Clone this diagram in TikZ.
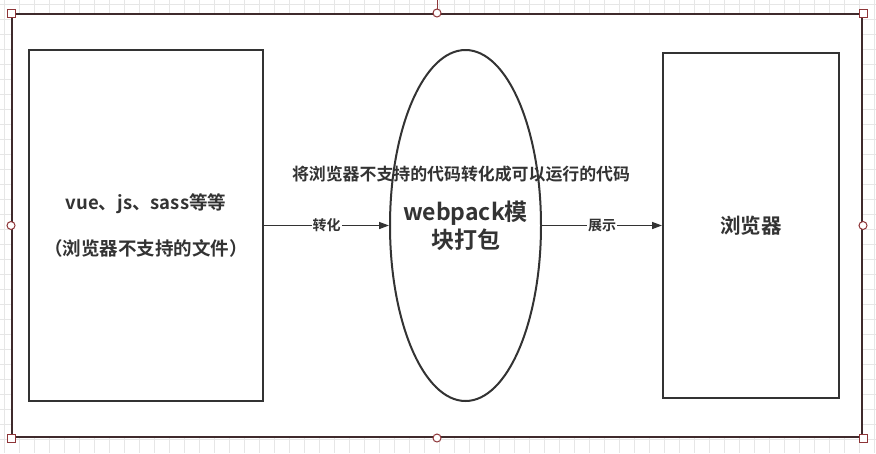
\documentclass[tikz,border=0pt]{standalone}
\usepackage{fontspec}
\newfontfamily\cjk{Noto Sans CJK SC}[BoldFont={Noto Sans CJK SC Bold}]
\usetikzlibrary{shapes,
	arrows.meta,
	positioning}
\definecolor{ink}{HTML}{333333}
\definecolor{selline}{HTML}{3F2A2C}
\definecolor{handle}{HTML}{8E3538}
\definecolor{gridc}{HTML}{E6E6E6}
\tikzstyle{box}=[draw=ink, line width=2pt, fill=white, inner sep=0, text=ink, align=center]
\tikzstyle{lbl}=[text=ink, fill=white, inner sep=1pt, font=\cjk\bfseries\fontsize{14}{16}\selectfont]
\tikzstyle{hsq}=[draw=handle, fill=white, line width=1pt, minimum size=8pt, inner sep=0]
\tikzstyle{hci}=[hsq, circle]
\tikzstyle{flow}=[draw=ink, line width=1.5pt, -{Triangle[length=10pt,width=7pt]}]

\begin{document}
\begin{tikzpicture}[x=1pt, y=-1pt]
	\useasboundingbox (0,0) rectangle (876,453);
	% grid
	\foreach \g in {4,19,...,874} {
		\draw[gridc, line width=1pt] (\g,0) -- (\g,453);
	}
	\foreach \g in {4,19,...,452} {
		\draw[gridc, line width=1pt] (0,\g) -- (876,\g);
	}
	% selected frame
	\node[draw=selline, line width=2pt, fill=white, inner sep=0,
		minimum width=850pt, minimum height=423pt] (frame) at (437,225.5) {};
	\coordinate (rot) at (437,0);
	\draw[handle, line width=1pt] (frame.north) -- (rot);
	\foreach \a in {north west, north east, south west, south east} {
		\node[hsq] at (frame.\a) {};
	}
	\foreach \a in {north, south, east, west} {
		\node[hci] at (frame.\a) {};
	}
	% blocks
	\node[box, minimum width=234pt, minimum height=351pt,
		font=\cjk\bfseries\fontsize{18.5}{22}\selectfont] (src) at (146,225.5)
		{vue、js、sass等等\\[24pt]（浏览器不支持的文件）};
	\node[box, ellipse, minimum width=151pt, minimum height=351pt] (pack) at (465.5,225.5) {};
	\node[text=ink, align=center, inner sep=0,
		font=\cjk\bfseries\fontsize{23}{28}\selectfont] (packtxt) at (pack.center)
		{webpack模\\块打包};
	\node[box, minimum width=176pt, minimum height=345pt,
		font=\cjk\bfseries\fontsize{20.5}{24}\selectfont] (dst) at (751,225.5) {浏览器};
	\node[text=ink, inner sep=0, font=\cjk\bfseries\fontsize{16.9}{20}\selectfont]
		(note) at (461,174) {将浏览器不支持的代码转化成可以运行的代码};
	% arrows
	\draw[flow] (src.east) -- node[lbl] {转化} (pack.west);
	\draw[flow] (pack.east) -- node[lbl] {展示} (dst.west);
\end{tikzpicture}
\end{document}
